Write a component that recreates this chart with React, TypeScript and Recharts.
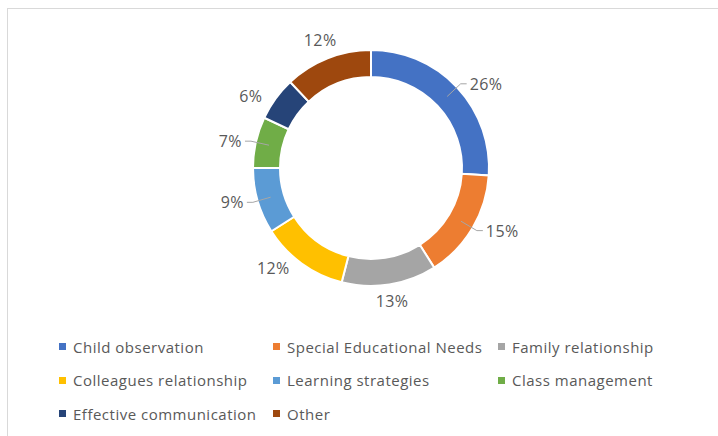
import React from 'react'
import { PieChart, Pie, Cell, Legend } from 'recharts'

// share of responses per training topic (%)
const categories = [
  'Child observation',
  'Special Educational Needs',
  'Family relationship',
  'Colleagues relationship',
  'Learning strategies',
  'Class management',
  'Effective communication',
  'Other',
]
const shares = [26, 15, 13, 12, 9, 7, 6, 12]
const colors = ['#4472C4', '#ED7D31', '#A5A5A5', '#FFC000', '#5B9BD5', '#70AD47', '#264478', '#9E480E']

const data = categories.map((name, i) => ({ name, value: shares[i] }))

const RAD = Math.PI / 180
const FONT = '"Open Sans", sans-serif'
const TEXT = '#595959'

const renderLabel = (props: any) => {
  const { cx, cy, midAngle, innerRadius, outerRadius, value } = props
  const dx = Math.cos(-midAngle * RAD)
  const dy = Math.sin(-midAngle * RAD)
  const text = `${value}%`
  const halfW = text.length * 6
  const style = { fontFamily: FONT, fontSize: 16, fill: TEXT, letterSpacing: 0.4 }

  if (Math.abs(dx) >= 0.5) {
    const side = dx > 0 ? 1 : -1
    const r1 = (innerRadius + outerRadius) / 2
    const r2 = outerRadius + 5
    const x1 = cx + r1 * dx
    const y1 = cy + r1 * dy
    const x2 = cx + r2 * dx
    const y2 = cy + r2 * dy
    const x3 = x2 + side * 6
    // leader only where the label sits off to the side
    const showLine = dx > 0 || Math.abs(dx) > 0.9
    return (
      <g>
        {showLine && (
          <polyline points={`${x1},${y1} ${x2},${y2} ${x3},${y2}`} stroke="#A6A6A6" strokeWidth={1} fill="none" />
        )}
        <text x={x3 + side * 3} y={y2} textAnchor={side > 0 ? 'start' : 'end'} dominantBaseline="central" style={style}>
          {text}
        </text>
      </g>
    )
  }

  const d = outerRadius + 6 + halfW * Math.abs(dx) + 8 * Math.abs(dy)
  return (
    <text x={cx + d * dx} y={cy + d * dy} textAnchor="middle" dominantBaseline="central" style={style}>
      {text}
    </text>
  )
}

// legend in data order (recharts would otherwise sort it)
const renderLegend = () => (
  <div style={{ display: 'grid', gridTemplateColumns: '214px 225px 200px' }}>
    {categories.map((name, i) => (
      <div key={name} style={{ display: 'flex', alignItems: 'center', height: 33.5 }}>
        <span style={{ width: 7, height: 7, background: colors[i], marginRight: 7, flex: 'none' }} />
        <span style={{ fontFamily: FONT, fontSize: 15, color: TEXT, letterSpacing: 0.5, whiteSpace: 'nowrap' }}>
          {name}
        </span>
      </div>
    ))}
  </div>
)

export default function App() {
  return (
    <div style={{ position: 'absolute', left: 0, top: 0, width: 718, height: 436, background: '#fff', overflow: 'hidden' }}>
      <div
        style={{
          position: 'absolute',
          left: 7,
          top: 8,
          width: 720,
          height: 440,
          borderTop: '1px solid #D9D9D9',
          borderLeft: '1px solid #D9D9D9',
        }}
      />
      <div style={{ position: 'absolute', left: 0, top: 0 }}>
        <PieChart width={718} height={436} margin={{ top: 0, right: 0, bottom: 0, left: 0 }}>
          <Pie
            data={data}
            dataKey="value"
            nameKey="name"
            cx={371}
            cy={168}
            innerRadius={91}
            outerRadius={118}
            startAngle={90}
            endAngle={-270}
            stroke="#fff"
            strokeWidth={2}
            label={renderLabel}
            labelLine={false}
            isAnimationActive={false}
          >
            {data.map((d, i) => (
              <Cell key={d.name} fill={colors[i]} />
            ))}
          </Pie>
          <Legend
            content={renderLegend}
            wrapperStyle={{ position: 'absolute', left: 59, top: 330, width: 650 }}
          />
        </PieChart>
      </div>
    </div>
  )
}
